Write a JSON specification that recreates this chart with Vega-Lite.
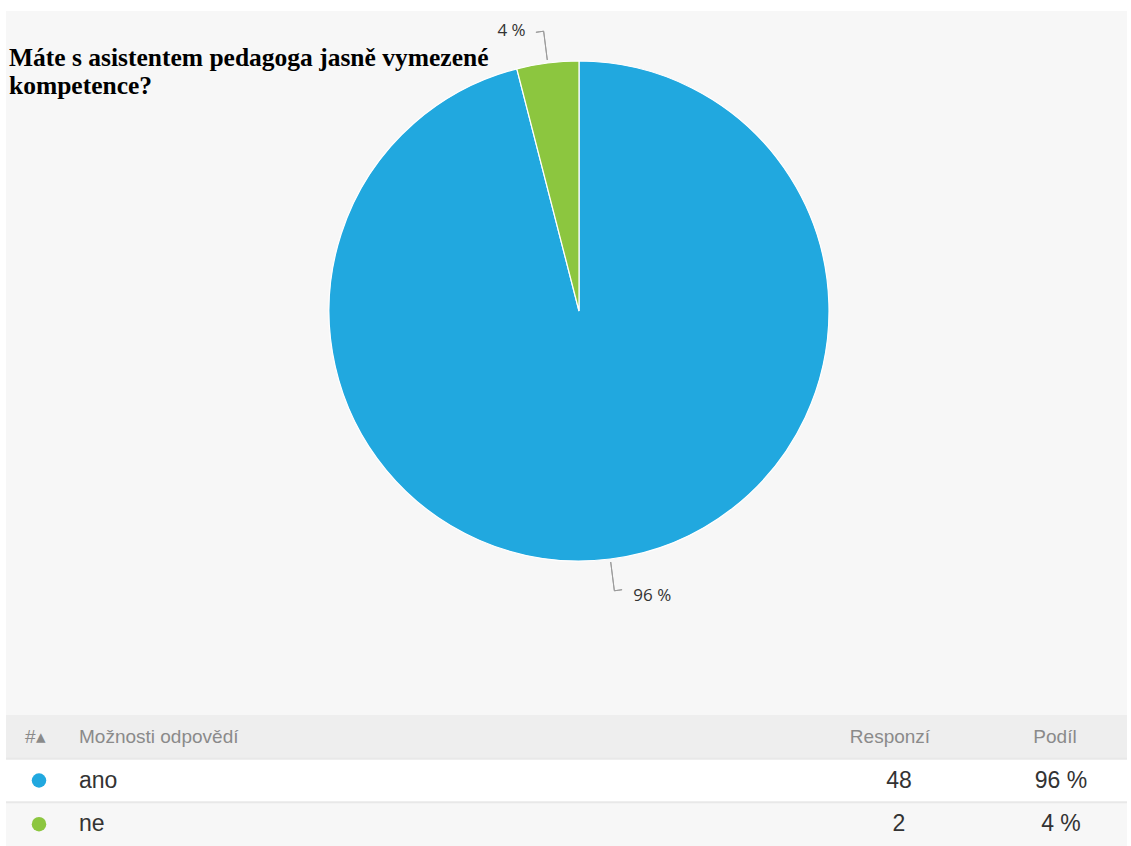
{
  "$schema": "https://vega.github.io/schema/vega-lite/v6.json",
  "background": "white",
  "padding": {"left": 5, "top": 11, "right": 5, "bottom": 0},
  "spacing": 0,
  "config": {"view": {"stroke": null}, "concat": {"spacing": 0}},
  "datasets": {
    "odpovedi": [
      {"odpoved": "ano", "pocet": 48},
      {"odpoved": "ne", "pocet": 2}
    ],
    "zahlavi": [
      {"odpoved": "Možnosti odpovědí", "cislo": "#▴", "responze": "Responzí", "podil": "Podíl"}
    ]
  },
  "vconcat": [
    {
      "width": 1121,
      "height": 704,
      "view": {"fill": "#f7f7f7", "stroke": null},
      "title": {
        "text": ["Máte s asistentem pedagoga jasně vymezené", "kompetence?"],
        "anchor": "start",
        "frame": "group",
        "orient": "top",
        "font": "Liberation Serif",
        "fontSize": 25.5,
        "fontWeight": "bold",
        "color": "#000000",
        "baseline": "alphabetic",
        "lineHeight": 28,
        "offset": -108,
        "dx": 3
      },
      "data": {"name": "odpovedi"},
      "transform": [
        {"joinaggregate": [{"op": "sum", "field": "pocet", "as": "celkem"}]},
        {"stack": "pocet", "groupby": [], "sort": [{"field": "odpoved", "order": "ascending"}], "as": ["s0", "s1"]},
        {"calculate": "(datum.s0 + datum.s1) / 2", "as": "stred"},
        {"calculate": "datum.stred - 0.22", "as": "ohyb"},
        {"calculate": "format(100 * datum.pocet / datum.celkem, '.0f') + ' %'", "as": "stitek"}
      ],
      "layer": [
        {
          "mark": {"type": "arc", "radius": 250, "stroke": "#ffffff", "strokeWidth": 1.2, "xOffset": 12.5, "yOffset": -52},
          "encoding": {
            "theta": {"field": "s1", "type": "quantitative", "scale": {"zero": true, "nice": false}},
            "theta2": {"field": "s0"},
            "color": {"field": "odpoved", "type": "nominal", "scale": {"domain": ["ano", "ne"], "range": ["#21a8df", "#8cc63f"]}, "legend": null}
          }
        },
        {
          "mark": {"type": "arc", "radius": 282, "radius2": 253, "fill": "transparent", "fillOpacity": 0, "stroke": "#9b9b9b", "strokeWidth": 1, "xOffset": 12.5, "yOffset": -52},
          "encoding": {
            "theta": {"field": "stred", "type": "quantitative"},
            "theta2": {"field": "stred"}
          }
        },
        {
          "mark": {"type": "arc", "radius": 282, "radius2": 282, "fill": "transparent", "fillOpacity": 0, "stroke": "#9b9b9b", "strokeWidth": 1, "xOffset": 12.5, "yOffset": -52},
          "encoding": {
            "theta": {"field": "ohyb", "type": "quantitative"},
            "theta2": {"field": "stred"}
          }
        },
        {
          "transform": [{"filter": "datum.odpoved == 'ne'"}],
          "mark": {"type": "text", "radius": 282, "align": "right", "baseline": "middle", "dx": -18, "dy": 0, "font": "Open Sans", "fontSize": 17, "fill": "#333333", "xOffset": 12.5, "yOffset": -52},
          "encoding": {
            "theta": {"field": "stred", "type": "quantitative"},
            "text": {"field": "stitek"}
          }
        },
        {
          "transform": [{"filter": "datum.odpoved == 'ano'"}],
          "mark": {"type": "text", "radius": 282, "align": "left", "baseline": "middle", "dx": 19, "dy": 5, "font": "Open Sans", "fontSize": 17, "fill": "#333333", "xOffset": 12.5, "yOffset": -52},
          "encoding": {
            "theta": {"field": "stred", "type": "quantitative"},
            "text": {"field": "stitek"}
          }
        }
      ]
    },
    {
      "width": 1121,
      "height": 131,
      "view": {"fill": "#ffffff", "stroke": null},
      "encoding": {
        "y": {"field": "odpoved", "type": "nominal", "scale": {"domain": ["Možnosti odpovědí", "ano", "ne"], "paddingInner": 0, "paddingOuter": 0}, "axis": null}
      },
      "layer": [
        {
          "data": {"name": "zahlavi"},
          "mark": {"type": "rect"},
          "encoding": {
            "fill": {"field": "odpoved", "type": "nominal", "scale": {"domain": ["Možnosti odpovědí", "ano", "ne"], "range": ["#eeeeee", "#ffffff", "#f7f7f7"]}, "legend": null}
          }
        },
        {
          "data": {"name": "odpovedi"},
          "mark": {"type": "rect"},
          "encoding": {
            "fill": {"field": "odpoved", "type": "nominal", "legend": null}
          }
        },
        {
          "data": {"name": "odpovedi"},
          "mark": {"type": "rule", "stroke": "#e8e8e8", "strokeWidth": 2},
          "encoding": {
            "y": {"field": "odpoved", "type": "nominal", "bandPosition": 0}
          }
        },
        {
          "data": {"name": "odpovedi"},
          "mark": {"type": "point", "filled": true, "size": 210, "opacity": 1},
          "encoding": {
            "x": {"datum": 33, "type": "quantitative", "scale": {"domain": [0, 1121], "zero": false, "nice": false}, "axis": null},
            "color": {"field": "odpoved", "type": "nominal", "legend": null}
          }
        },
        {
          "data": {"name": "zahlavi"},
          "mark": {"type": "text", "align": "left", "baseline": "middle", "font": "Liberation Sans", "fontSize": 19, "fill": "#8a8a8a"},
          "encoding": {
            "x": {"datum": 19, "type": "quantitative"},
            "text": {"field": "cislo"}
          }
        },
        {
          "data": {"name": "zahlavi"},
          "mark": {"type": "text", "align": "left", "baseline": "middle", "font": "Liberation Sans", "fontSize": 19, "fill": "#8a8a8a"},
          "encoding": {
            "x": {"datum": 73, "type": "quantitative"},
            "text": {"field": "odpoved"}
          }
        },
        {
          "data": {"name": "zahlavi"},
          "mark": {"type": "text", "align": "center", "baseline": "middle", "font": "Liberation Sans", "fontSize": 19, "fill": "#8a8a8a"},
          "encoding": {
            "x": {"datum": 884, "type": "quantitative"},
            "text": {"field": "responze"}
          }
        },
        {
          "data": {"name": "zahlavi"},
          "mark": {"type": "text", "align": "center", "baseline": "middle", "font": "Liberation Sans", "fontSize": 19, "fill": "#8a8a8a"},
          "encoding": {
            "x": {"datum": 1049, "type": "quantitative"},
            "text": {"field": "podil"}
          }
        },
        {
          "data": {"name": "odpovedi"},
          "mark": {"type": "text", "align": "left", "baseline": "middle", "font": "Liberation Sans", "fontSize": 23, "fill": "#333333"},
          "encoding": {
            "x": {"datum": 73, "type": "quantitative"},
            "text": {"field": "odpoved"}
          }
        },
        {
          "data": {"name": "odpovedi"},
          "mark": {"type": "text", "align": "center", "baseline": "middle", "font": "Liberation Sans", "fontSize": 23, "fill": "#333333"},
          "encoding": {
            "x": {"datum": 893, "type": "quantitative"},
            "text": {"field": "pocet"}
          }
        },
        {
          "data": {"name": "odpovedi"},
          "transform": [
            {"joinaggregate": [{"op": "sum", "field": "pocet", "as": "celkem"}]},
            {"calculate": "format(100 * datum.pocet / datum.celkem, '.0f') + ' %'", "as": "stitek"}
          ],
          "mark": {"type": "text", "align": "center", "baseline": "middle", "font": "Liberation Sans", "fontSize": 23, "fill": "#333333"},
          "encoding": {
            "x": {"datum": 1055, "type": "quantitative"},
            "text": {"field": "stitek"}
          }
        }
      ]
    }
  ]
}
